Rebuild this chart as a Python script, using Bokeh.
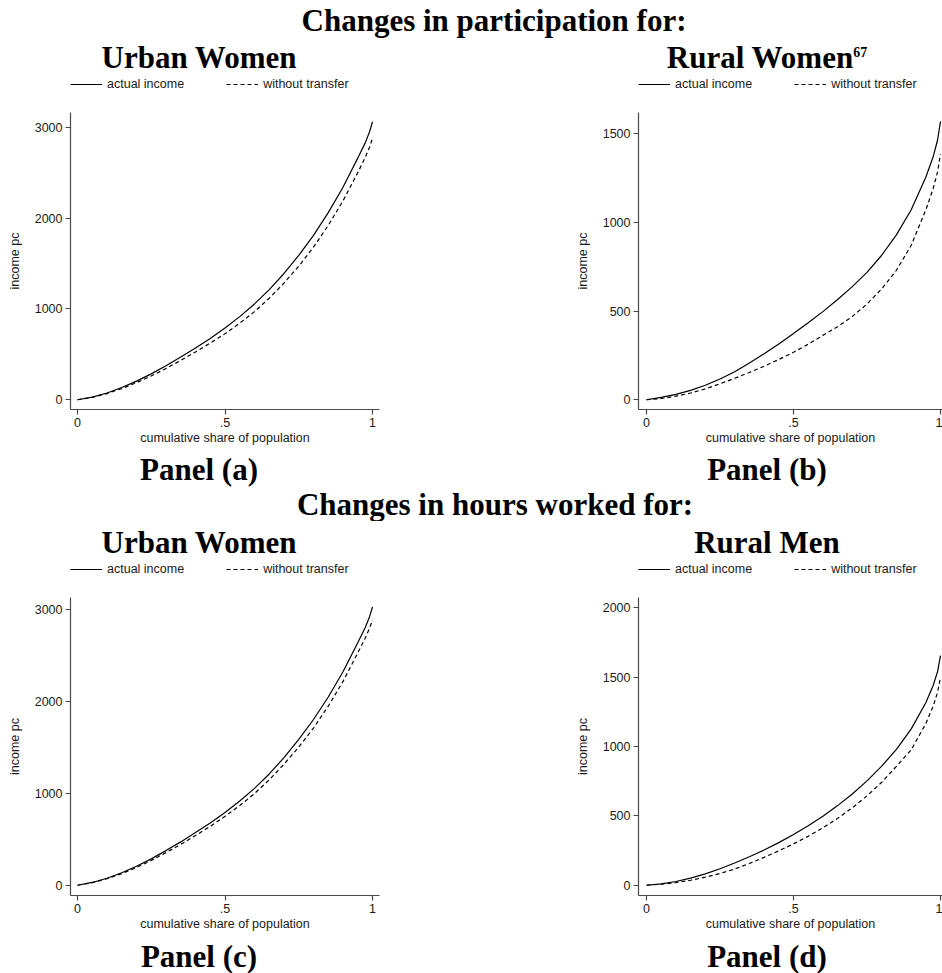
from bokeh.plotting import figure
from bokeh.models import Range1d, FixedTicker, Legend, LegendItem, ColumnDataSource, Div
from bokeh.layouts import column, row
from bokeh.embed import file_html
from bokeh.resources import INLINE

# ---------------- data ----------------
share = [0.0, 0.05, 0.10, 0.15, 0.20, 0.25, 0.30, 0.35, 0.40, 0.45, 0.50,
         0.55, 0.60, 0.65, 0.70, 0.75, 0.80, 0.85, 0.90, 0.95, 0.975, 0.99, 1.0]

# Panel (a): participation, urban women
urban_part_actual = [0, 30, 75, 135, 205, 285, 375, 470, 570, 675, 790,
                     915, 1055, 1212, 1390, 1590, 1810, 2060, 2340, 2660, 2825, 2950, 3060]
urban_part_notransfer = [0, 27, 68, 123, 188, 262, 345, 433, 527, 624, 727,
                         843, 970, 1118, 1285, 1470, 1680, 1920, 2190, 2500, 2665, 2780, 2880]
# Panel (b): participation, rural women
rural_women_actual = [0, 13, 30, 53, 82, 117, 158, 207, 259, 315, 374,
                      434, 497, 565, 638, 718, 815, 930, 1070, 1255, 1370, 1465, 1570]
rural_women_notransfer = [0, 7, 20, 38, 61, 90, 121, 154, 189, 227, 268,
                          313, 363, 412, 470, 540, 625, 730, 870, 1070, 1190, 1285, 1385]
# Panel (c): hours worked, urban women
urban_hours_actual = [0, 30, 76, 136, 206, 287, 377, 472, 573, 678, 793,
                      917, 1055, 1212, 1390, 1588, 1805, 2050, 2325, 2640, 2805, 2925, 3030]
urban_hours_notransfer = [0, 28, 71, 127, 193, 270, 355, 445, 541, 641, 750,
                          868, 998, 1148, 1318, 1505, 1712, 1950, 2220, 2530, 2690, 2800, 2890]
# Panel (d): hours worked, rural men
rural_men_actual = [0, 10, 27, 51, 82, 119, 160, 205, 254, 307, 365,
                    428, 497, 574, 658, 752, 858, 980, 1125, 1315, 1440, 1540, 1655]
rural_men_notransfer = [0, 7, 19, 36, 58, 85, 117, 157, 201, 248, 298,
                        353, 414, 482, 558, 644, 742, 857, 975, 1165, 1290, 1390, 1500]

x_ticks = [0, 0.5, 1]
x_tick_labels = ["0", ".5", "1"]
yticks_a = [0, 1000, 2000, 3000]
yticks_b = [0, 500, 1000, 1500]
yticks_c = [0, 1000, 2000, 3000]
yticks_d = [0, 500, 1000, 1500, 2000]
legend_labels = ["actual income", "without transfer"]

SERIF = "Liberation Serif"
SANS = "Liberation Sans"
AXIS_COL = "#4a4a4a"
TEXT_COL = "#1a1a1a"
DASH = "4 3"


def panel(g, src, yticks):
    p = figure(frame_width=g["fw"], frame_height=g["fh"], title=None,
               x_range=Range1d(*g["xr"]), y_range=Range1d(*g["yr"]),
               min_border_left=g["bl"], min_border_right=g["br"],
               min_border_top=g["bt"], min_border_bottom=g["bb"],
               toolbar_location=None, output_backend="svg")
    p.outline_line_color = None
    p.xgrid.visible = False
    p.ygrid.visible = False

    p.line("share", "actual", source=src, line_color="black", line_width=1.2)
    p.line("share", "nt", source=src, line_color="black", line_width=1.2, line_dash=DASH)

    for ax in (p.xaxis[0], p.yaxis[0]):
        ax.axis_line_color = AXIS_COL
        ax.axis_line_width = 1.2
        ax.major_tick_line_color = AXIS_COL
        ax.major_tick_line_width = 1.2
        ax.major_tick_in = 0
        ax.major_tick_out = 5
        ax.minor_tick_line_color = None
        ax.major_label_text_font = SANS
        ax.major_label_text_font_size = "12.5px"
        ax.major_label_text_color = TEXT_COL
        ax.axis_label_text_font = SANS
        ax.axis_label_text_font_size = "12.5px"
        ax.axis_label_text_font_style = "normal"
        ax.axis_label_text_color = TEXT_COL

    p.xaxis.ticker = FixedTicker(ticks=x_ticks)
    p.xaxis.major_label_overrides = dict(zip(x_ticks, x_tick_labels))
    p.xaxis.axis_label = "cumulative share of population"
    p.xaxis.major_label_standoff = 3
    p.xaxis.axis_label_standoff = 1

    p.yaxis.ticker = FixedTicker(ticks=yticks)
    p.yaxis.axis_label = "income pc"
    p.yaxis.major_label_standoff = 3
    p.yaxis.axis_label_standoff = 10
    return p


def legend_strip(g, src, height):
    # a strip holding only the legend; its ranges keep the series out of view
    p = figure(frame_width=g["fw"], frame_height=height, title=None,
               x_range=Range1d(0, 1), y_range=Range1d(-2, -1),
               min_border_left=g["bl"], min_border_right=g["br"],
               min_border_top=0, min_border_bottom=0,
               x_axis_location=None, y_axis_location=None,
               toolbar_location=None, output_backend="svg")
    p.outline_line_color = None
    p.grid.visible = False
    r1 = p.line("share", "actual", source=src, line_color="black", line_width=1.2)
    r2 = p.line("share", "nt", source=src, line_color="black", line_width=1.2, line_dash=DASH)
    leg = Legend(items=[LegendItem(label=legend_labels[0], renderers=[r1]),
                        LegendItem(label=legend_labels[1], renderers=[r2])],
                 orientation="horizontal", location="center_left",
                 glyph_width=32, glyph_height=14, label_height=14,
                 label_standoff=5, spacing=42, padding=0, margin=0,
                 border_line_color=None, background_fill_alpha=0,
                 label_text_font=SANS, label_text_font_size="12.5px",
                 label_text_color=TEXT_COL)
    p.add_layout(leg, "center")
    return p


def text_div(html, width, height, baseline, pad_left=0, size=31):
    pad_top = max(0.0, baseline - height / 2.0 - 10.45)
    inner = ('<div style="box-sizing:border-box;width:%dpx;height:%dpx;overflow:hidden;'
             'padding-left:%dpx;padding-top:%.2fpx;text-align:center;'
             'font-family:\'Liberation Serif\';font-weight:bold;font-size:%dpx;'
             'line-height:%dpx;color:black;white-space:nowrap;">%s</div>'
             % (width, height, pad_left, pad_top, size, height, html))
    return Div(text=inner, width=width, height=height, margin=0)


# geometry (page px, origin top-left): left frames x 70..379, right frames x 638..942
ga = dict(fw=309, fh=297, bl=70, br=10, bt=20, bb=39, xr=(-0.0237, 1.0237), yr=(-107, 3162))
gb = dict(fw=304, fh=297, bl=249, br=0, bt=20, bb=39, xr=(-0.0272, 1.0068), yr=(-55, 1620))
gc = dict(fw=309, fh=298, bl=70, br=10, bt=20, bb=39, xr=(-0.0237, 1.0237), yr=(-112, 3134))
gd = dict(fw=304, fh=298, bl=249, br=0, bt=20, bb=39, xr=(-0.0272, 1.0068), yr=(-74, 2074))

src_a = ColumnDataSource(dict(share=share, actual=urban_part_actual, nt=urban_part_notransfer))
src_b = ColumnDataSource(dict(share=share, actual=rural_women_actual, nt=rural_women_notransfer))
src_c = ColumnDataSource(dict(share=share, actual=urban_hours_actual, nt=urban_hours_notransfer))
src_d = ColumnDataSource(dict(share=share, actual=rural_men_actual, nt=rural_men_notransfer))

pa = panel(ga, src_a, yticks_a)
pb = panel(gb, src_b, yticks_b)
pc = panel(gc, src_c, yticks_c)
pd = panel(gd, src_d, yticks_d)

WA, WB = 389, 553
PA, PB = 9, 203
sup = '<span style="font-size:14px;line-height:0;vertical-align:11px;">67</span>'

h1 = text_div("Changes in participation for:", 942, 38, 31, pad_left=46)
t_a = text_div("Urban Women", WA, 38, 30, pad_left=PA)
t_b = text_div("Rural Women" + sup, WB, 38, 30, pad_left=PB)
lg_a = legend_strip(ga, src_a, 16)
lg_b = legend_strip(gb, src_b, 16)
l_a = text_div("Panel (a)", WA, 40, 32, pad_left=PA)
l_b = text_div("Panel (b)", WB, 40, 32, pad_left=PB)
h2 = text_div("Changes in hours worked for:", 942, 33, 27, pad_left=48)
t_c = text_div("Urban Women", WA, 40, 32, pad_left=PA)
t_d = text_div("Rural Men", WB, 40, 32, pad_left=PB)
lg_c = legend_strip(gc, src_c, 16)
lg_d = legend_strip(gd, src_d, 16)
l_c = text_div("Panel (c)", WA, 39, 33, pad_left=PA)
l_d = text_div("Panel (d)", WB, 39, 33, pad_left=PB)

layout = column(h1,
                row(t_a, t_b, spacing=0),
                row(lg_a, lg_b, spacing=0),
                row(pa, pb, spacing=0),
                row(l_a, l_b, spacing=0),
                h2,
                row(t_c, t_d, spacing=0),
                row(lg_c, lg_d, spacing=0),
                row(pc, pd, spacing=0),
                row(l_c, l_d, spacing=0),
                spacing=0)

open("out.html", "w").write(file_html(layout, INLINE))
